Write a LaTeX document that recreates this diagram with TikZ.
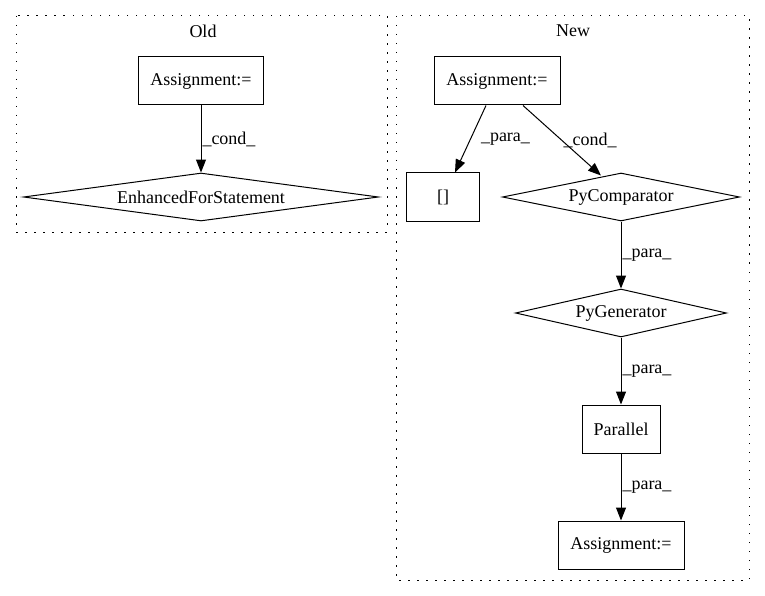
\documentclass[tikz,border=0pt]{standalone}
\usepackage{fontspec}
\setmainfont{Liberation Serif}
\usetikzlibrary{shapes.geometric,arrows.meta}

\begin{document}
\begin{tikzpicture}[x=1pt, y=-1pt, font=\fontsize{18}{21}\selectfont, line width=1pt,
  box/.style={draw, rectangle, minimum height=48pt, inner sep=0pt},
  cnd/.style={draw, diamond, minimum height=48pt, inner sep=0pt},
  cluster/.style={draw, dash pattern=on 1.5pt off 7.5pt},
  edge/.style={-{Triangle[length=13pt,width=10pt]}},
  lbl/.style={anchor=west, inner sep=1pt}]
\useasboundingbox (0,0) rectangle (765,596);
% clusters
\draw[cluster] (16,16) rectangle (387,232);
\node (old) at (203,31) {Old};
\draw[cluster] (396,16) rectangle (749,580);
\node (new) at (573,31) {New};
% old graph
\node[box, minimum width=125pt] (oa) at (201,81) {Assignment:=};
\node[cnd, aspect=7.4, minimum width=355pt] (efs) at (201,197) {EnhancedForStatement};
\draw[edge] (oa) -- (efs) node[lbl, pos=0.5] {\_cond\_};
% new graph
\node[box, minimum width=126pt] (na) at (497,81) {Assignment:=};
\node[box, minimum width=73pt] (br) at (443,197) {[]};
\node[cnd, aspect=4.9, minimum width=237pt] (pc) at (621,197) {PyComparator};
\node[cnd, aspect=4.4, minimum width=211pt] (pg) at (621,313) {PyGenerator};
\node[box, minimum width=78pt] (par) at (621,429) {Parallel};
\node[box, minimum width=126pt] (nb) at (621,545) {Assignment:=};
\draw[edge] ([xshift=-11pt]na.south) -- ([xshift=12pt]br.north) node[lbl, pos=0.5, xshift=9pt] {\_para\_};
\draw[edge] ([xshift=26pt]na.south) -- ([xshift=-20pt,yshift=-3pt]pc.north) node[lbl, pos=0.5] {\_cond\_};
\draw[edge] (pc) -- (pg) node[lbl, pos=0.5] {\_para\_};
\draw[edge] (pg) -- (par) node[lbl, pos=0.5] {\_para\_};
\draw[edge] (par) -- (nb) node[lbl, pos=0.5] {\_para\_};
\end{tikzpicture}
\end{document}
